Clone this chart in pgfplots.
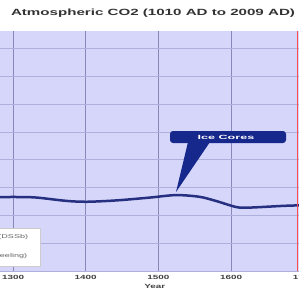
\documentclass[border=0pt]{standalone}
\usepackage{pgfplots}
\pgfplotsset{compat=1.18}
\usepackage{fontspec}
\setmainfont{Liberation Sans}
\definecolor{plotbg}{RGB}{214,214,250}
\definecolor{vgrid}{RGB}{135,135,185}
\definecolor{hgrid}{RGB}{175,175,220}
\definecolor{co2line}{RGB}{38,48,128}
\definecolor{callout}{RGB}{22,40,140}
\begin{document}
\begin{tikzpicture}[x=1pt,y=1pt]
\path[use as bounding box, clip] (0,0) rectangle (299,295);
\fill[white] (0,0) rectangle (299,295);
\begin{axis}[
  at={(-8.8pt,24pt)}, anchor=south west,
  scale only axis, width=327.2pt, height=240pt,
  xmin=1270, xmax=1720, ymin=250, ymax=336.3,
  axis background/.style={fill=plotbg},
  axis line style={draw=none},
  xtick={1300,1400,1500,1600,1700},
  ytick={250,260,...,330},
  yticklabels={},
  major tick length=0pt,
  xmajorgrids, ymajorgrids,
  x grid style={vgrid, line width=0.9pt},
  y grid style={hgrid, line width=0.6pt},
  /pgf/number format/1000 sep={},
  /pgf/number format/assume math mode=true,
  xticklabel style={font=\bfseries\fontsize{6}{7}\selectfont, text=black!75, xscale=1.65, anchor=center, yshift=-6pt},
  xlabel={Year}, xlabel style={font=\bfseries\fontsize{6}{7}\selectfont, text=black!75, xscale=1.65, anchor=center, yshift=-4pt},
  clip=false,
]
\addplot[co2line, line width=2.5pt, smooth, tension=0.5] coordinates {
(1270,276.6) (1282,276.6) (1310,276.6) (1333,276.4) (1374,275.2) (1402,274.9) (1443,275.4)
(1488,276.4) (1524,277.3) (1556,276.7) (1579,275.2) (1607,273.0) (1625,272.8)
(1670,273.4) (1693,273.6) (1720,273.7)
};
\draw[red!70, line width=0.8pt] (axis cs:1690.6,250) -- (axis cs:1690.6,336.3);
\end{axis}
% legend box (cropped)
\draw[fill=white, draw=black!20, line width=0.4pt] (-10,29) rectangle (40,67);
\node[anchor=east, xscale=1.65, font=\fontsize{5.5}{6}\selectfont, text=black!60] at (34,58) {Law Dome (DSSb)};
\node[anchor=east, xscale=1.65, font=\fontsize{5.5}{6}\selectfont, text=black!60] at (33,39) {Mauna Loa (Keeling)};
% callout
\fill[callout] (188,153) -- (176,103) -- (210,153) -- cycle;
\fill[callout, rounded corners=3pt] (170,152) rectangle (286,164);
\node[text=white, xscale=2.1, font=\bfseries\fontsize{6}{7}\selectfont] at (226,158) {Ice Cores};
% title
\node[xscale=1.68, font=\bfseries\fontsize{9}{11}\selectfont, text=black!80] at (153,282) {Atmospheric CO2 (1010 AD to 2009 AD)};
\end{tikzpicture}
\end{document}
